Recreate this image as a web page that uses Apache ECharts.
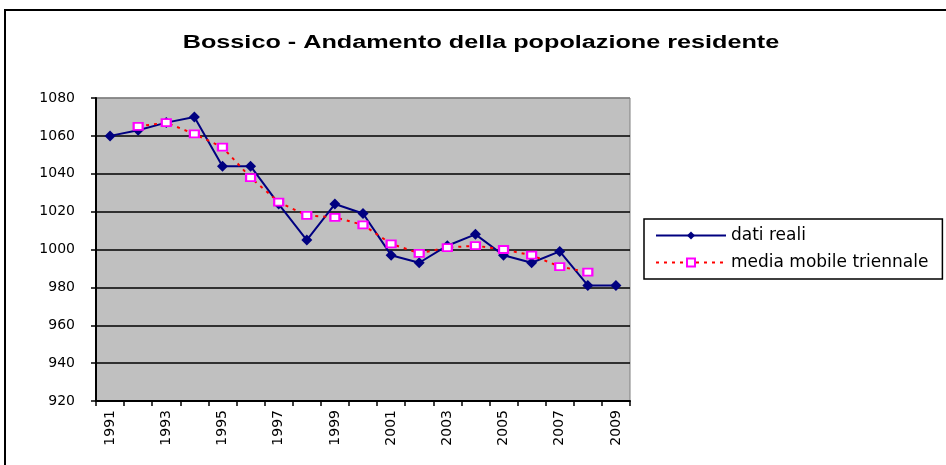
<!DOCTYPE html>
<html lang="it">
<head>
<meta charset="utf-8">
<title>Bossico - Andamento della popolazione residente</title>
<script src="https://cdn.jsdelivr.net/npm/echarts@6/dist/echarts.min.js"></script>
<style>
  html, body { margin: 0; padding: 0; background: #fff; }
  #chart { width: 946px; height: 465px; }
</style>
</head>
<body>
<div id="chart"></div>
<script>
// anni e valori
var anni = ['1991', '1992', '1993', '1994', '1995', '1996', '1997', '1998', '1999', '2000',
            '2001', '2002', '2003', '2004', '2005', '2006', '2007', '2008', '2009'];
var datiReali = [1060, 1063, 1067, 1070, 1044, 1044, 1024, 1005, 1024, 1019,
                 997, 993, 1002, 1008, 997, 993, 999, 981, 981];
// media mobile triennale (manca il primo e l'ultimo anno)
var mediaMobile = [null, 1065, 1067, 1061, 1054, 1038, 1025, 1018, 1017, 1013,
                   1003, 998, 1001, 1002, 1000, 997, 991, 988, null];
var yMin = 920, yMax = 1080, yStep = 20;

var fontArial = '"Liberation Sans", Arial, sans-serif';
var fontWide = '"DejaVu Sans", Verdana, sans-serif';
var myChart = echarts.init(document.getElementById('chart'));

var option = {
  animation: false,
  backgroundColor: '#fff',
  textStyle: { fontFamily: fontWide },
  graphic: [{
    // cornice esterna
    type: 'rect',
    shape: { x: 5, y: 10, width: 1000, height: 500 },
    style: { fill: 'none', stroke: '#000', lineWidth: 2 },
    silent: true
  }, {
    // titolo (il testo di Excel e' piu' largo, quindi lo allargo)
    type: 'text',
    x: 481,
    y: 43,
    scaleX: 1.44,
    style: {
      text: 'Bossico - Andamento della popolazione residente',
      font: 'bold 17.5px ' + fontArial,
      fill: '#000',
      textAlign: 'center',
      textVerticalAlign: 'middle'
    },
    silent: true
  }],
  legend: {
    orient: 'vertical',
    left: 644,
    top: 219,
    padding: [8, 14, 8, 11],
    itemGap: 10,
    itemWidth: 70,
    itemHeight: 10,
    borderColor: '#000',
    borderWidth: 1.5,
    backgroundColor: '#fff',
    textStyle: { fontFamily: fontWide, fontSize: 17, color: '#000' },
    data: ['dati reali', 'media mobile triennale']
  },
  grid: {
    left: 96,
    right: 316,
    top: 98,
    bottom: 64,
    show: true,
    backgroundColor: '#C0C0C0',
    borderColor: '#808080',
    borderWidth: 1
  },
  xAxis: {
    type: 'category',
    data: anni,
    boundaryGap: true,
    axisLine: { lineStyle: { color: '#000', width: 2 } },
    axisTick: { show: true, interval: 0, length: 5, lineStyle: { color: '#000', width: 1.5 } },
    axisLabel: {
      interval: 1,
      rotate: 90,
      margin: 9,
      fontFamily: fontWide,
      fontSize: 14,
      color: '#000'
    },
    splitLine: { show: false }
  },
  yAxis: {
    type: 'value',
    min: yMin,
    max: yMax,
    interval: yStep,
    axisLine: { show: true, lineStyle: { color: '#000', width: 2 } },
    axisTick: { show: true, length: 5, lineStyle: { color: '#000', width: 1.5 } },
    axisLabel: {
      fontFamily: fontWide,
      fontSize: 14,
      color: '#000',
      margin: 21,
      formatter: function (v) { return String(v); }
    },
    splitLine: {
      show: true,
      lineStyle: {
        color: ['#000', '#000', '#000', '#000', '#000', '#000', '#000', '#000', '#808080'],
        width: 1.5
      }
    }
  },
  series: [{
    name: 'dati reali',
    type: 'line',
    data: datiReali,
    symbol: 'diamond',
    symbolSize: 11,
    color: '#000080',
    lineStyle: { color: '#000080', width: 2 },
    itemStyle: { color: '#000080' },
    z: 3
  }, {
    name: 'media mobile triennale',
    type: 'line',
    data: mediaMobile,
    symbol: 'rect',
    symbolSize: [9, 7],
    color: '#FF00FF',
    lineStyle: { color: '#FF0000', width: 2, type: [3, 5] },
    itemStyle: { color: '#fff', borderColor: '#FF00FF', borderWidth: 2 },
    z: 4
  }]
};
myChart.setOption(option);
</script>
</body>
</html>
